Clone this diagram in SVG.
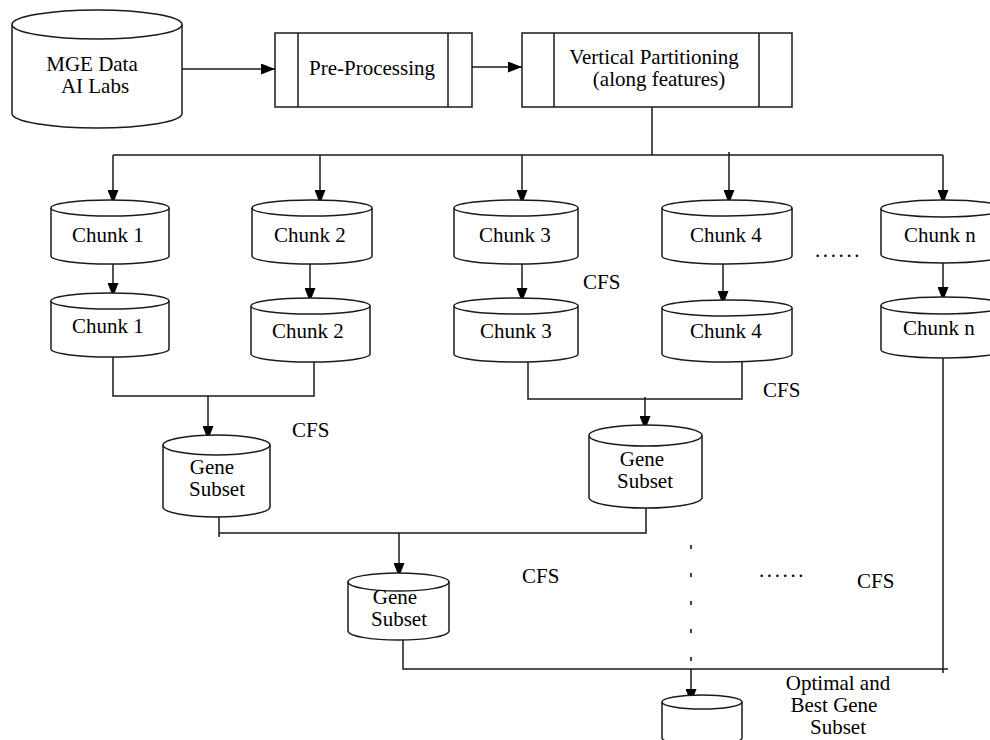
<svg xmlns="http://www.w3.org/2000/svg" width="990" height="740" viewBox="0 0 990 740">
<style>
.cyl{fill:#fff;stroke:#1a1a1a;stroke-width:1.5}
.box{fill:#fff;stroke:#1a1a1a;stroke-width:1.5}
.ln{fill:none;stroke:#1a1a1a;stroke-width:1.5}
.dash{fill:none;stroke:#6a2a6a;stroke-width:2}
text{font-family:"Liberation Serif","Times New Roman",serif;font-size:21px;fill:#000}
.c{text-anchor:middle}
.dots{letter-spacing:2.6px}
</style>
<defs>
<marker id="ah" markerUnits="userSpaceOnUse" markerWidth="14" markerHeight="11" refX="14" refY="5.5" orient="auto">
<path d="M0,0 L14,5.5 L0,11 Z" fill="#000"/>
</marker>
</defs>
<rect width="990" height="740" fill="#fff"/>

<g id="connectors">
<path class="ln" d="M175,69 H275" marker-end="url(#ah)"/>
<path class="ln" d="M472,67 H522" marker-end="url(#ah)"/>
<path class="ln" d="M652,107 V155"/>
<path class="ln" d="M113,155 H943"/>
<path class="ln" d="M113,155 V204" marker-end="url(#ah)"/>
<path class="ln" d="M320,155 V204" marker-end="url(#ah)"/>
<path class="ln" d="M522,155 V204" marker-end="url(#ah)"/>
<path class="ln" d="M729,152 V204" marker-end="url(#ah)"/>
<path class="ln" d="M943,155 V204" marker-end="url(#ah)"/>
<path class="ln" d="M113,264 V297" marker-end="url(#ah)"/>
<path class="ln" d="M310,258 V302" marker-end="url(#ah)"/>
<path class="ln" d="M522,264 V302" marker-end="url(#ah)"/>
<path class="ln" d="M723,258 V305" marker-end="url(#ah)"/>
<path class="ln" d="M943,258 V301" marker-end="url(#ah)"/>
<path class="ln" d="M113,357 V396 H314 V362"/>
<path class="ln" d="M208,396 V440" marker-end="url(#ah)"/>
<path class="ln" d="M528,362 V399 H742 V362"/>
<path class="ln" d="M645,397 V430" marker-end="url(#ah)"/>
<path class="ln" d="M219,517 V537 M219,533 H646 V508"/>
<path class="ln" d="M399,533 V577" marker-end="url(#ah)"/>
<path class="ln" d="M403,640 V669 H948 M943,358 V673"/>
<path class="dash" d="M691,545 V549 M691,573 V577 M691,601 V605 M691,629 V633 M691,657 V661"/>
<path class="ln" d="M691,669 V703" marker-end="url(#ah)"/>
</g>

<g id="mge">
<path class="cyl" d="M12,24.5 V113.5 A85,14.5 0 0 0 182,113.5 V24.5"/>
<ellipse class="cyl" cx="97" cy="24.5" rx="85" ry="14.5"/>
<text class="c" x="92" y="71">MGE Data</text>
<text class="c" x="95" y="93">AI Labs</text>
</g>

<g id="preprocessing">
<rect class="box" x="275" y="33" width="197" height="74"/>
<path class="ln" d="M298,33 V107 M448,33 V107"/>
<text class="c" x="372" y="75">Pre-Processing</text>
</g>

<g id="partitioning">
<rect class="box" x="522" y="33" width="270" height="74"/>
<path class="ln" d="M554,33 V107 M759,33 V107"/>
<text class="c" x="654" y="64">Vertical Partitioning</text>
<text class="c" x="659" y="86">(along features)</text>
</g>

<g id="chunk1a">
<path class="cyl" d="M51,208 V256 A59,8 0 0 0 169,256 V208"/>
<ellipse class="cyl" cx="110" cy="208" rx="59" ry="8"/>
<text class="c" x="108" y="242">Chunk 1</text>
</g>
<g id="chunk2a">
<path class="cyl" d="M252,208 V256 A60,8 0 0 0 372,256 V208"/>
<ellipse class="cyl" cx="312" cy="208" rx="60" ry="8"/>
<text class="c" x="310" y="242">Chunk 2</text>
</g>
<g id="chunk3a">
<path class="cyl" d="M454,208 V256 A62,8 0 0 0 578,256 V208"/>
<ellipse class="cyl" cx="516" cy="208" rx="62" ry="8"/>
<text class="c" x="515" y="242">Chunk 3</text>
</g>
<g id="chunk4a">
<path class="cyl" d="M662,208 V256 A65,8 0 0 0 792,256 V208"/>
<ellipse class="cyl" cx="727" cy="208" rx="65" ry="8"/>
<text class="c" x="726" y="242">Chunk 4</text>
</g>
<g id="chunkna">
<path class="cyl" d="M881,208.5 V254.5 A62,8.5 0 0 0 1005,254.5 V208.5"/>
<ellipse class="cyl" cx="943" cy="208.5" rx="62" ry="8.5"/>
<text class="c" x="940" y="242">Chunk n</text>
</g>

<g id="chunk1b">
<path class="cyl" d="M51,301 V349 A59,8 0 0 0 169,349 V301"/>
<ellipse class="cyl" cx="110" cy="301" rx="59" ry="8"/>
<text class="c" x="108" y="333">Chunk 1</text>
</g>
<g id="chunk2b">
<path class="cyl" d="M251,306 V354 A59.5,8 0 0 0 370,354 V306"/>
<ellipse class="cyl" cx="310.5" cy="306" rx="59.5" ry="8"/>
<text class="c" x="308" y="338">Chunk 2</text>
</g>
<g id="chunk3b">
<path class="cyl" d="M454,306 V354 A62,8 0 0 0 578,354 V306"/>
<ellipse class="cyl" cx="516" cy="306" rx="62" ry="8"/>
<text class="c" x="516" y="338">Chunk 3</text>
</g>
<g id="chunk4b">
<path class="cyl" d="M662,308 V354 A65,8 0 0 0 792,354 V308"/>
<ellipse class="cyl" cx="727" cy="308" rx="65" ry="8"/>
<text class="c" x="726" y="338">Chunk 4</text>
</g>
<g id="chunknb">
<path class="cyl" d="M881,305.5 V349.5 A62,8.5 0 0 0 1005,349.5 V305.5"/>
<ellipse class="cyl" cx="943" cy="305.5" rx="62" ry="8.5"/>
<text class="c" x="939" y="335">Chunk n</text>
</g>

<g id="gene1">
<path class="cyl" d="M163,445 V507 A53.5,10 0 0 0 270,507 V445"/>
<ellipse class="cyl" cx="216.5" cy="445" rx="53.5" ry="10"/>
<text class="c" x="212" y="474">Gene</text>
<text class="c" x="217" y="496">Subset</text>
</g>
<g id="gene2">
<path class="cyl" d="M589,435.5 V497.5 A56.5,10.5 0 0 0 702,497.5 V435.5"/>
<ellipse class="cyl" cx="645.5" cy="435.5" rx="56.5" ry="10.5"/>
<text class="c" x="642" y="466">Gene</text>
<text class="c" x="645" y="488">Subset</text>
</g>
<g id="gene3">
<path class="cyl" d="M348,582 V631 A50.5,9 0 0 0 449,631 V582"/>
<ellipse class="cyl" cx="398.5" cy="582" rx="50.5" ry="9"/>
<text class="c" x="395" y="604">Gene</text>
<text class="c" x="399" y="626">Subset</text>
</g>
<g id="optimal">
<path class="cyl" d="M662,702 V738 A40,7 0 0 0 742,738 V702"/>
<ellipse class="cyl" cx="702" cy="702" rx="40" ry="7"/>
<text class="c" x="838" y="690">Optimal and</text>
<text class="c" x="834" y="712">Best Gene</text>
<text class="c" x="838" y="734">Subset</text>
</g>

<g id="labels">
<text x="583" y="289">CFS</text>
<text x="763" y="397">CFS</text>
<text x="292" y="437">CFS</text>
<text x="522" y="583">CFS</text>
<text x="857" y="588">CFS</text>
<text class="dots" x="815" y="257">......</text>
<text class="dots" x="759" y="577">......</text>
</g>
</svg>
